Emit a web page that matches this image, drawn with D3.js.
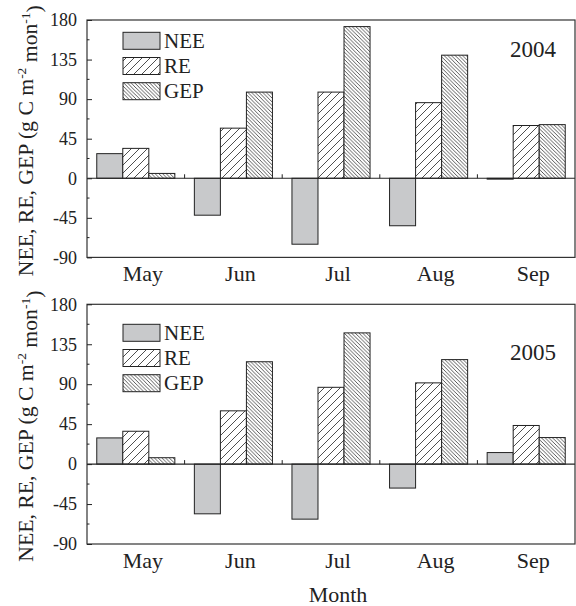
<!DOCTYPE html>
<html>
<head>
<meta charset="utf-8">
<script src="https://cdn.jsdelivr.net/npm/d3@7"></script>
<style>
  html, body { margin: 0; padding: 0; background: #fff; }
  svg { display: block; }
  text { font-family: "Liberation Serif", "Times New Roman", serif; fill: #222; }
</style>
</head>
<body>
<div id="chart"></div>
<script>
// Monthly carbon fluxes (g C m-2 mon-1)
const months = ["May", "Jun", "Jul", "Aug", "Sep"];
const series = ["NEE", "RE", "GEP"];
const years = ["2004", "2005"];

const nee2004 = [28, -42, -75, -54, -1];
const re2004  = [34, 57, 98, 86, 60];
const gep2004 = [5.5, 98, 172.5, 140, 61];

const nee2005 = [29.5, -56, -62, -27, 13];
const re2005  = [37, 60, 86.5, 91.5, 43.5];
const gep2005 = [7.2, 115.3, 147.8, 117.7, 29.9];

const yTickValues = [-90, -45, 0, 45, 90, 135, 180];
const yMinorValues = [-67.5, -22.5, 22.5, 67.5, 112.5, 157.5];

const yearData = {
  "2004": { NEE: nee2004, RE: re2004, GEP: gep2004 },
  "2005": { NEE: nee2005, RE: re2005, GEP: gep2005 }
};

const W = 576, H = 606;
const left = 87, right = 575;
const panels = [
  { year: "2004", top: 20, bottom: 257.4, legendTop: 32.3, yearY: 57.3 },
  { year: "2005", top: 304.3, bottom: 544, legendTop: 324.3, yearY: 360 }
];

const svg = d3.select("#chart").append("svg")
  .attr("width", W).attr("height", H);

// hatch fills
const defs = svg.append("defs");
const pRE = defs.append("pattern").attr("id", "hatch-re")
  .attr("patternUnits", "userSpaceOnUse").attr("width", 8).attr("height", 8);
pRE.append("rect").attr("width", 8).attr("height", 8).attr("fill", "#fff");
pRE.append("path").attr("d", "M0,8L8,0M-2,2L2,-2M6,10L10,6")
  .attr("stroke", "#222").attr("stroke-width", 0.8);

const pGEP = defs.append("pattern").attr("id", "hatch-gep")
  .attr("patternUnits", "userSpaceOnUse").attr("width", 3.7).attr("height", 3.7);
pGEP.append("rect").attr("width", 3.7).attr("height", 3.7).attr("fill", "#fff");
pGEP.append("path").attr("d", "M0,0L3.7,3.7M-1,2.7L1,4.7M2.7,-1L4.7,1")
  .attr("stroke", "#222").attr("stroke-width", 0.75);

const fills = { NEE: "#c8c9cb", RE: "url(#hatch-re)", GEP: "url(#hatch-gep)" };

const x0 = d3.scaleBand().domain(months).range([left, right]).padding(0);
const x1 = d3.scaleBand().domain(series)
  .range([x0.bandwidth() * 0.1, x0.bandwidth() * 0.9]).padding(0);
const labelShift = 7;

panels.forEach(p => {
  const g = svg.append("g");
  const y = d3.scaleLinear().domain([-90, 180]).range([p.bottom, p.top]);
  const d = yearData[p.year];

  // bars
  months.forEach((m, i) => {
    series.forEach(s => {
      const v = d[s][i];
      g.append("rect")
        .attr("x", x0(m) + x1(s))
        .attr("y", Math.min(y(v), y(0)))
        .attr("width", x1.bandwidth())
        .attr("height", Math.abs(y(v) - y(0)))
        .attr("fill", fills[s])
        .attr("stroke", "#222")
        .attr("stroke-width", 1);
    });
  });

  // zero line with ticks between months
  g.append("line").attr("x1", left).attr("x2", right)
    .attr("y1", y(0)).attr("y2", y(0)).attr("stroke", "#222").attr("stroke-width", 1.1);
  g.selectAll(".bt").data(months.slice(1)).enter().append("line")
    .attr("x1", m => x0(m)).attr("x2", m => x0(m))
    .attr("y1", y(0)).attr("y2", y(0) - 4)
    .attr("stroke", "#222").attr("stroke-width", 1);

  // frame
  g.append("rect").attr("x", left).attr("y", p.top)
    .attr("width", right - left).attr("height", p.bottom - p.top)
    .attr("fill", "none").attr("stroke", "#333").attr("stroke-width", 1.2);

  // y axis (inward ticks)
  const yAxis = d3.axisLeft(y).tickValues(yTickValues).tickSize(-5).tickPadding(10)
    .tickFormat(d3.format("d"));
  const ya = g.append("g").attr("transform", `translate(${left},0)`).call(yAxis);
  ya.select(".domain").remove();
  ya.selectAll(".tick line").attr("stroke", "#222");
  ya.selectAll(".tick text")
    .attr("font-size", 18)
    .attr("font-family", "Liberation Serif, serif")
    .attr("fill", "#222")
    .attr("x", -10)
    .text(v => v < 0 ? "-" + Math.abs(v) : String(v));
  g.selectAll(".minor").data(yMinorValues).enter().append("line")
    .attr("x1", left).attr("x2", left + 2.5)
    .attr("y1", v => y(v)).attr("y2", v => y(v))
    .attr("stroke", "#222").attr("stroke-width", 1);

  // month labels
  g.selectAll(".ml").data(months).enter().append("text")
    .attr("x", m => x0(m) + x0.bandwidth() / 2 + labelShift)
    .attr("y", p.bottom + 24)
    .attr("text-anchor", "middle")
    .attr("font-size", 22)
    .text(m => m);

  // year
  g.append("text").attr("x", 556).attr("y", p.yearY)
    .attr("text-anchor", "end").attr("font-size", 23).text(p.year);

  // legend
  series.forEach((s, k) => {
    const ly = p.legendTop + k * 25.2;
    g.append("rect").attr("x", 123).attr("y", ly)
      .attr("width", 37).attr("height", 17)
      .attr("fill", fills[s]).attr("stroke", "#222").attr("stroke-width", 1);
    g.append("text").attr("x", 164).attr("y", ly + 15.5)
      .attr("font-size", 21).text(s);
  });

  // y axis title
  const t = g.append("text")
    .attr("transform", `translate(33,${(p.top + p.bottom) / 2 + 2}) rotate(-90)`)
    .attr("text-anchor", "middle")
    .attr("font-size", 21.7);
  t.append("tspan").text("NEE, RE, GEP (g C m");
  t.append("tspan").attr("dy", "-0.5em").attr("font-size", 13.5).text("-2");
  t.append("tspan").attr("dy", "0.5em").text(" mon");
  t.append("tspan").attr("dy", "-0.5em").attr("font-size", 13.5).text("-1");
  t.append("tspan").attr("dy", "0.5em").text(")");
});

// x axis title
svg.append("text")
  .attr("x", (left + right) / 2 + labelShift)
  .attr("y", 602)
  .attr("text-anchor", "middle")
  .attr("font-size", 22)
  .text("Month");
</script>
</body>
</html>
